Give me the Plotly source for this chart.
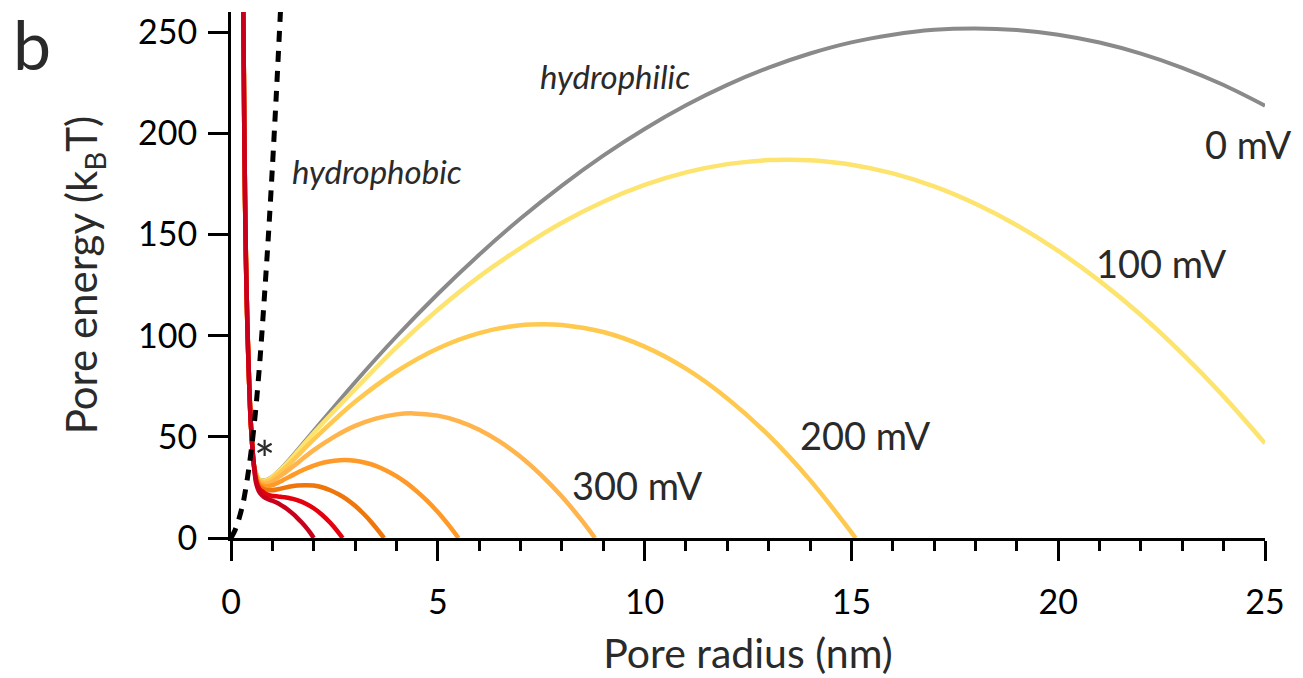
import plotly.graph_objects as go

# ---- data ----
# shared steep (steric) branch, pore radius (nm) / energy (kBT)
branch_r = [0.28, 0.30, 0.32, 0.34, 0.36, 0.38, 0.40, 0.44, 0.47, 0.50, 0.53, 0.56]
branch_e = [292, 255, 205, 167, 139, 119, 102, 76, 60, 50, 41, 35]

mv0_r = [0.6, 0.65, 0.7, 0.75, 0.8, 0.9, 1.0, 1.25, 1.5, 2, 3, 4, 5, 6, 7, 8, 9, 10, 11, 12,
         13, 14, 15, 16, 17, 18, 19, 20, 21, 22, 23, 24, 25]
mv0_e = [32.5, 29.9, 28.7, 28.6, 28.4, 29.1, 30.4, 35.2, 40.9, 53.0, 77.0, 99.6, 120.6, 140.0,
         157.9, 174.2, 189.0, 202.2, 213.9, 224.0, 232.5, 239.5, 245.0, 248.8, 251.2, 251.9,
         251.1, 248.8, 244.9, 239.4, 232.4, 223.9, 213.7]

mv100_r = [0.6, 0.65, 0.7, 0.75, 0.8, 0.9, 1.0, 1.25, 1.5, 2, 3, 4, 5, 6, 7, 8, 9, 10, 11, 12,
           13, 13.45, 14, 15, 16, 17, 18, 19, 20, 21, 22, 23, 24, 25]
mv100_e = [32.4, 29.8, 28.6, 28.4, 28.2, 28.9, 30.2, 34.8, 40.2, 51.9, 73.5, 94.2, 112.8, 129.2,
           143.3, 155.8, 166.2, 174.5, 180.7, 184.8, 186.8, 187.0, 186.7, 184.5, 180.2, 173.8,
           165.2, 154.6, 141.9, 127.1, 110.2, 91.1, 70.0, 46.8]

mv200_r = [0.6, 0.65, 0.7, 0.75, 0.8, 0.9, 1.0, 1.25, 1.5, 2, 3, 4, 5, 6, 7, 7.55, 8, 9, 10,
           11, 12, 13, 14, 15, 15.1]
mv200_e = [32.1, 29.4, 28.2, 28.0, 27.7, 28.2, 29.4, 33.6, 38.4, 48.7, 67.3, 82.3, 93.7, 101.3,
           105.2, 105.7, 105.3, 101.8, 94.6, 83.7, 69.0, 50.7, 28.6, 2.8, 0]

mv300_r = [0.6, 0.65, 0.7, 0.75, 0.8, 0.9, 1.0, 1.25, 1.5, 2, 2.5, 3, 3.5, 4, 4.4, 5, 5.5, 6,
           6.5, 7, 7.5, 8, 8.5, 8.8]
mv300_e = [31.7, 28.9, 27.5, 27.2, 26.9, 27.1, 28.0, 31.5, 35.4, 43.4, 50.1, 55.4, 59.0, 61.1,
           61.6, 60.5, 57.8, 53.5, 47.6, 40.2, 31.1, 20.5, 8.2, 0]

mv400_r = [0.6, 0.65, 0.7, 0.75, 0.8, 0.9, 1.0, 1.25, 1.5, 1.75, 2.0, 2.25, 2.5, 2.75, 3.0,
           3.25, 3.5, 3.75, 4.0, 4.25, 4.5, 4.75, 5.0, 5.25, 5.5]
mv400_e = [31.0, 28.1, 26.6, 26.1, 25.6, 25.6, 26.1, 28.5, 31.2, 33.7, 35.8, 37.3, 38.2, 38.5,
           38.2, 37.2, 35.7, 33.4, 30.6, 27.1, 22.9, 18.2, 12.8, 6.7, 0]

mv500_r = [0.6, 0.65, 0.7, 0.75, 0.8, 0.9, 1.0, 1.2, 1.4, 1.6, 1.8, 2.0, 2.2, 2.4, 2.6, 2.8,
           3.0, 3.2, 3.4, 3.6, 3.7]
mv500_e = [30.1, 27.0, 25.4, 24.7, 24.1, 23.6, 23.6, 24.4, 25.3, 25.9, 26.1, 25.9, 25.1, 23.6,
           21.6, 19.1, 15.9, 12.1, 7.7, 2.7, 0]

mv600_r = [0.6, 0.65, 0.7, 0.75, 0.8, 0.9, 1.0, 1.1, 1.2, 1.3, 1.4, 1.5, 1.6, 1.8, 2.0, 2.2,
           2.4, 2.6, 2.7]
mv600_e = [29.1, 25.8, 24.0, 23.2, 22.3, 21.3, 20.8, 20.6, 20.4, 20.1, 19.8, 19.3, 18.7, 17.1,
           14.7, 11.5, 7.5, 2.7, 0]

mv700_r = [0.6, 0.65, 0.7, 0.75, 0.8, 0.9, 1.0, 1.1, 1.2, 1.3, 1.4, 1.5, 1.6, 1.7, 1.8, 1.9, 2.0]
mv700_e = [27.8, 24.3, 22.2, 21.1, 20.2, 19.2, 18.4, 17.5, 16.4, 15.1, 13.6, 11.9, 10.0, 7.9,
           5.6, 3.0, 0]

# hydrophobic pore energy (dashed)
phob_r = [0, 0.1, 0.2, 0.3, 0.4, 0.5, 0.6, 0.7, 0.8, 0.9, 1.0, 1.1, 1.2]
phob_e = [0, 4, 10, 18, 30, 45, 64, 88, 117, 148, 183, 221, 262]

voltages = ["0 mV", "100 mV", "200 mV", "300 mV", "400 mV", "500 mV", "600 mV", "700 mV"]
series_r = [mv0_r, mv100_r, mv200_r, mv300_r, mv400_r, mv500_r, mv600_r, mv700_r]
series_e = [mv0_e, mv100_e, mv200_e, mv300_e, mv400_e, mv500_e, mv600_e, mv700_e]
colors = ["#8a8a8a", "#fde46e", "#ffc950", "#ffb44c", "#ff9a28", "#ef760a", "#e6000e", "#c8001c"]
widths = [4, 4.5, 4.5, 4.5, 4.5, 4.5, 4.5, 4.5]

FONT = "Lato"
TXT = "#2a2a2a"

fig = go.Figure()

for name, rr, ee, col, w in zip(voltages, series_r, series_e, colors, widths):
    fig.add_trace(go.Scatter(
        x=branch_r + rr, y=branch_e + ee, mode="lines", name=name,
        line=dict(color=col, width=w, shape="spline", smoothing=0.8), hoverinfo="skip"))

fig.add_trace(go.Scatter(
    x=phob_r, y=phob_e, mode="lines", name="hydrophobic",
    line=dict(color="black", width=5, dash="11px,9px", shape="spline", smoothing=0.8),
    hoverinfo="skip"))

ann = dict(showarrow=False, font=dict(family=FONT, size=38, color=TXT))
fig.add_annotation(x=24.6, y=194.8, text="0 mV", **ann)
fig.add_annotation(x=22.5, y=136, text="100 mV", **ann)
fig.add_annotation(x=15.35, y=50.8, text="200 mV", **ann)
fig.add_annotation(x=9.82, y=26.1, text="300 mV", **ann)
fig.add_annotation(x=9.28, y=228.3, text="<i>hydrophilic</i>",
                   showarrow=False, font=dict(family=FONT, size=33, color=TXT))
fig.add_annotation(x=3.53, y=181.5, text="<i>hydrophobic</i>",
                   showarrow=False, font=dict(family=FONT, size=33, color=TXT))
fig.add_annotation(x=0.8, y=39, text="*", showarrow=False,
                   font=dict(family=FONT, size=50, color=TXT))
fig.add_annotation(x=-0.213, y=1.02, xref="paper", yref="paper", text="b",
                   xanchor="left", yanchor="top",
                   showarrow=False, font=dict(family=FONT, size=68, color=TXT))

axis_common = dict(
    showline=True, linecolor="black", linewidth=3, mirror=False,
    ticks="outside", ticklen=20, tickwidth=3, tickcolor="black",
    showgrid=False, zeroline=False, automargin=False,
    tickfont=dict(family=FONT, size=34, color="black"),
)

fig.update_layout(
    width=1303, height=678,
    margin=dict(l=231, r=38, t=12, b=140),
    paper_bgcolor="white", plot_bgcolor="white",
    showlegend=False,
    xaxis=dict(range=[0, 25], tick0=0, dtick=5,
               minor=dict(dtick=1, ticks="outside", ticklen=10, tickwidth=3, tickcolor="black"),
               ticklabelstandoff=12,
               title=dict(text="Pore radius (nm)", standoff=20,
                          font=dict(family=FONT, size=41, color=TXT)),
               **axis_common),
    yaxis=dict(range=[0, 260], tick0=0, dtick=50,
               ticklabelstandoff=4,
               title=dict(text="Pore energy (k<sub>B</sub>T)", standoff=28,
                          font=dict(family=FONT, size=42, color=TXT)),
               **axis_common),
)

fig.write_html("out.html")
